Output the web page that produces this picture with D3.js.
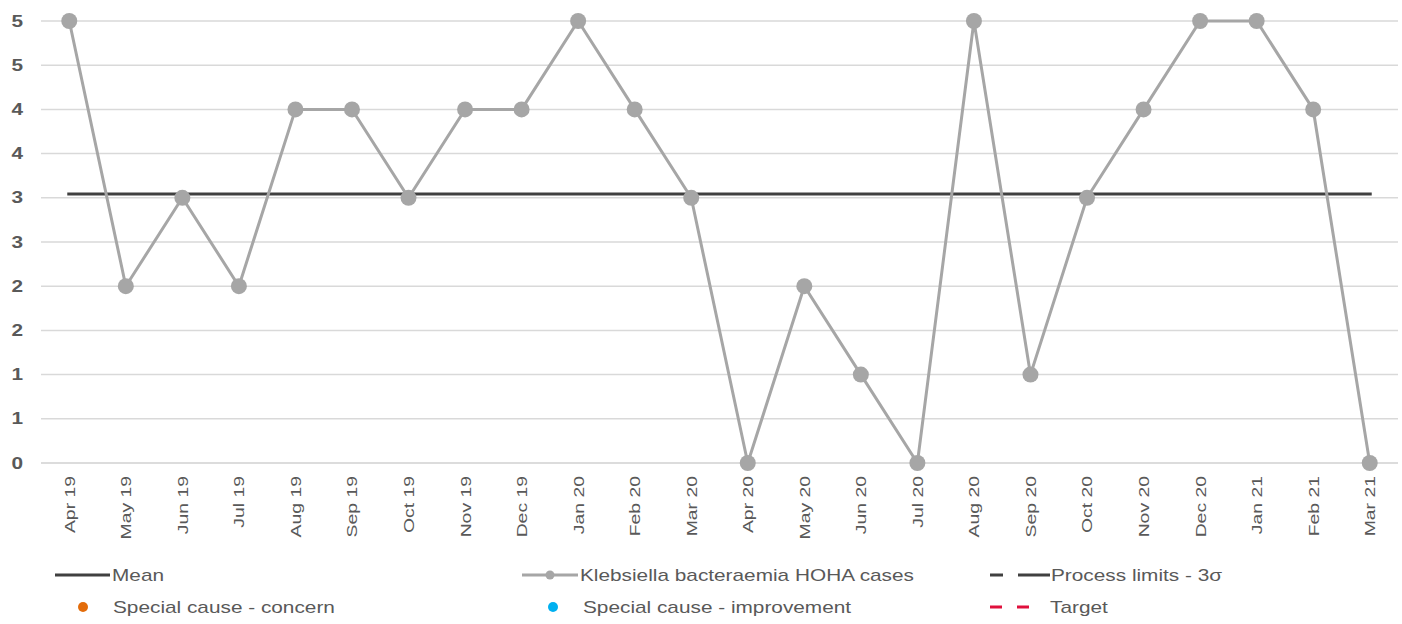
<!DOCTYPE html>
<html>
<head>
<meta charset="utf-8">
<script src="https://cdn.jsdelivr.net/npm/d3@7/dist/d3.min.js"></script>
<style>
  html, body { margin: 0; padding: 0; background: #ffffff; }
  svg { display: block; font-family: "Liberation Sans", Arial, sans-serif; }
</style>
</head>
<body>
<svg id="chart" width="1402" height="624"></svg>
<script>
// Monthly Klebsiella bacteraemia HOHA cases, Apr 2019 – Mar 2021
const months = ["Apr 19","May 19","Jun 19","Jul 19","Aug 19","Sep 19","Oct 19","Nov 19","Dec 19","Jan 20","Feb 20","Mar 20",
                "Apr 20","May 20","Jun 20","Jul 20","Aug 20","Sep 20","Oct 20","Nov 20","Dec 20","Jan 21","Feb 21","Mar 21"];
const cases = [5,2,3,2,4,4,3,4,4,5,4,3,0,2,1,0,5,1,3,4,5,5,4,0];
const yTicks = [0,0.5,1,1.5,2,2.5,3,3.5,4,4.5,5];
const meanValue = d3.mean(cases);

const svg = d3.select("#chart");
const plot = { left: 41, right: 1398, top: 21, bottom: 463 };
const textColor = "#595959";
const wide = 1.3; // horizontal stretch applied to the chart's text

const x = d3.scaleBand().domain(months).range([plot.left, plot.right]);
const y = d3.scaleLinear().domain([0, 5]).range([plot.bottom, plot.top]);
const cx = d => x(d) + x.bandwidth() / 2;

// Horizontal gridlines
svg.append("g")
  .selectAll("line").data(yTicks.slice(1)).join("line")
  .attr("x1", plot.left).attr("x2", plot.right)
  .attr("y1", d => y(d)).attr("y2", d => y(d))
  .attr("stroke", "#d9d9d9").attr("stroke-width", 1.5);

// Y axis: half-unit ticks, labels rounded to whole numbers
const yAxis = d3.axisLeft(y).tickValues(yTicks)
  .tickFormat(d => String(Math.floor(d + 0.5))).tickSize(0).tickPadding(0);
const gy = svg.append("g").attr("transform", `translate(${plot.left - 18},0)`).call(yAxis);
gy.select(".domain").remove();
gy.selectAll("text")
  .attr("font-size", 16).attr("fill", textColor).attr("font-weight", "bold")
  .attr("font-family", "Liberation Sans, Arial, sans-serif")
  .attr("x", 0)
  .attr("transform", `scale(${wide},1)`)
  .each(function () {
    // keep right edge anchored at the axis position while stretched
    const t = d3.select(this.parentNode);
    const ty = t.attr("transform");
    t.attr("transform", ty);
  });

// X axis baseline
svg.append("line")
  .attr("x1", plot.left).attr("x2", plot.right)
  .attr("y1", plot.bottom).attr("y2", plot.bottom)
  .attr("stroke", "#d0d0d0").attr("stroke-width", 1.5);

// X axis: rotated month labels
const xAxis = d3.axisBottom(x).tickSize(0).tickPadding(0);
const gx = svg.append("g").attr("transform", `translate(0,${plot.bottom})`).call(xAxis);
gx.select(".domain").remove();
gx.selectAll("text")
  .attr("font-size", 15.5).attr("fill", textColor)
  .attr("font-family", "Liberation Sans, Arial, sans-serif")
  .attr("text-anchor", "end")
  .attr("dy", "0.35em")
  .attr("transform", "translate(0,13) rotate(-90) scale(1.25,1)")
  .attr("x", 0).attr("y", 0);

// Mean line
svg.append("line")
  .attr("x1", cx(months[0]) - 2).attr("x2", cx(months[months.length - 1]) + 2)
  .attr("y1", y(meanValue)).attr("y2", y(meanValue))
  .attr("stroke", "#404040").attr("stroke-width", 3);

// Cases series
const line = d3.line().x((d, i) => cx(months[i])).y(d => y(d));
svg.append("path").datum(cases)
  .attr("d", line).attr("fill", "none")
  .attr("stroke", "#a6a6a6").attr("stroke-width", 3);
svg.append("g").selectAll("circle").data(cases).join("circle")
  .attr("cx", (d, i) => cx(months[i])).attr("cy", d => y(d))
  .attr("r", 8).attr("fill", "#a6a6a6");

// Legend
const legend = svg.append("g").attr("font-size", 16).attr("fill", textColor);
const row1 = 575, row2 = 607;
const label = (lx, ly, s) => legend.append("text")
  .attr("transform", `translate(${lx},${ly}) scale(${wide},1)`)
  .attr("dy", "0.35em").text(s);

legend.append("line").attr("x1", 55).attr("x2", 110).attr("y1", row1).attr("y2", row1)
  .attr("stroke", "#404040").attr("stroke-width", 3);
label(112, row1, "Mean");

legend.append("line").attr("x1", 522).attr("x2", 578).attr("y1", row1).attr("y2", row1)
  .attr("stroke", "#a6a6a6").attr("stroke-width", 3);
legend.append("circle").attr("cx", 550).attr("cy", row1).attr("r", 4.5).attr("fill", "#a6a6a6");
label(580, row1, "Klebsiella bacteraemia HOHA cases");

legend.append("line").attr("x1", 990).attr("x2", 1050).attr("y1", row1).attr("y2", row1)
  .attr("stroke", "#404040").attr("stroke-width", 3).attr("stroke-dasharray", "13,15,32");
label(1051, row1, "Process limits - 3σ");

legend.append("circle").attr("cx", 83).attr("cy", row2).attr("r", 5).attr("fill", "#e36c0a");
label(113, row2, "Special cause - concern");

legend.append("circle").attr("cx", 553).attr("cy", row2).attr("r", 5).attr("fill", "#00b0f0");
label(583, row2, "Special cause  - improvement");

legend.append("line").attr("x1", 990).attr("x2", 1032).attr("y1", row2).attr("y2", row2)
  .attr("stroke", "#e0103c").attr("stroke-width", 3).attr("stroke-dasharray", "12,15");
label(1050, row2, "Target");
</script>
</body>
</html>
